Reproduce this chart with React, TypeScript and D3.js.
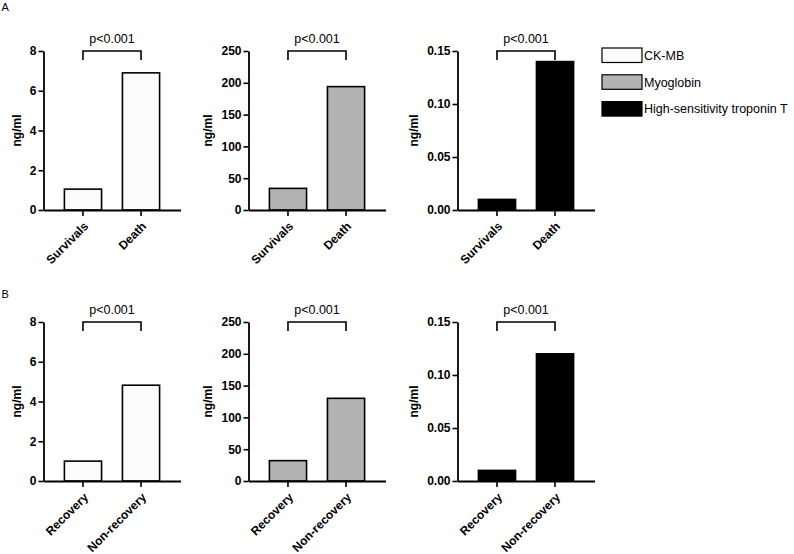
import React, { useEffect, useRef } from "react";
import * as d3 from "d3";

const groupsA = ["Survivals", "Death"];
const groupsB = ["Recovery", "Non-recovery"];
const markerNames = ["CK-MB", "Myoglobin", "High-sensitivity troponin T"];
const ckmbA = [1.05, 6.9];
const myoglobinA = [34, 194];
const troponinA = [0.01, 0.14];
const ckmbB = [1.0, 4.82];
const myoglobinB = [32, 130];
const troponinB = [0.01, 0.12];
const yMaxes = [8, 250, 0.15];
const yTicks0 = [0, 2, 4, 6, 8];
const yTicks1 = [0, 50, 100, 150, 200, 250];
const yTicks2 = [0, 0.05, 0.1, 0.15];
const yTickFormats = ["d", "d", ".2f"];
const pLabel = "p<0.001";
const panelLetters = ["A", "B"];
const yLabel = "ng/ml";

const fills = ["#fbfbfb", "#b3b3b3", "#000000"];
const colX = [43.5, 248.5, 457.5];
const rowTop = [51, 322];
const letterY = [11, 298];
const plotH = 159;
const plotW = 137;
const FONT = "'Liberation Sans', Arial, Helvetica, sans-serif";

export default function App() {
  const ref = useRef<SVGSVGElement>(null);
  useEffect(() => {
    const svg = d3.select(ref.current);
    svg.selectAll("*").remove();
    const rows = [
      { groups: groupsA, values: [ckmbA, myoglobinA, troponinA] },
      { groups: groupsB, values: [ckmbB, myoglobinB, troponinB] },
    ];
    const ticks = [yTicks0, yTicks1, yTicks2];

    rows.forEach((row, r) => {
      svg
        .append("text")
        .attr("x", 1.5)
        .attr("y", letterY[r])
        .attr("font-family", FONT)
        .attr("font-size", 11)
        .text(panelLetters[r]);

      row.values.forEach((vals, c) => {
        const g = svg.append("g").attr("transform", `translate(${colX[c]},${rowTop[r]})`);
        const y = d3.scaleLinear().domain([0, yMaxes[c]]).range([plotH, 0]);
        const x = d3.scaleBand<string>().domain(row.groups).range([0, plotW]).padding(0.36);

        g.selectAll("rect.bar")
          .data(vals)
          .join("rect")
          .attr("class", "bar")
          .attr("x", (_, i) => x(row.groups[i])!)
          .attr("y", (d) => y(d))
          .attr("width", x.bandwidth())
          .attr("height", (d) => plotH - y(d))
          .attr("fill", fills[c])
          .attr("stroke", "#000")
          .attr("stroke-width", 1.6);

        const yAxisG = g
          .append("g")
          .call(
            d3
              .axisLeft(y)
              .tickValues(ticks[c])
              .tickFormat(d3.format(yTickFormats[c]) as any)
              .tickSize(5)
              .tickSizeOuter(0)
              .tickPadding(2)
          );
        yAxisG.select(".domain").attr("stroke-width", 1.8);
        yAxisG.selectAll(".tick line").attr("stroke-width", 1.6);
        yAxisG
          .selectAll("text")
          .attr("font-family", FONT)
          .attr("font-size", 12)
          .attr("font-weight", "bold")
          .attr("fill", "#000");

        const xAxisG = g
          .append("g")
          .attr("transform", `translate(0,${plotH})`)
          .call(d3.axisBottom(x).tickSize(6).tickSizeOuter(0));
        xAxisG.select(".domain").attr("stroke-width", 1.8);
        xAxisG.selectAll(".tick line").attr("stroke-width", 1.6);
        xAxisG
          .selectAll("text")
          .attr("x", 0)
          .attr("y", 0)
          .attr("dy", "0.35em")
          .attr("transform", "translate(3,14) rotate(-45)")
          .attr("text-anchor", "end")
          .attr("font-family", FONT)
          .attr("font-size", 12)
          .attr("font-weight", "bold")
          .attr("fill", "#000");

        const bb = (yAxisG.node() as SVGGElement).getBBox();
        g.append("text")
          .attr("transform", `translate(${bb.x - 9},${plotH / 2}) rotate(-90)`)
          .attr("text-anchor", "middle")
          .attr("font-family", FONT)
          .attr("font-size", 12)
          .attr("font-weight", "bold")
          .text(yLabel);

        const x1 = x(row.groups[0])! + x.bandwidth() / 2;
        const x2 = x(row.groups[1])! + x.bandwidth() / 2;
        const yb = y(yMaxes[c]);
        g.append("path")
          .attr("d", `M${x1},${yb + 9}V${yb}H${x2}V${yb + 9}`)
          .attr("fill", "none")
          .attr("stroke", "#000")
          .attr("stroke-width", 1.6);
        g.append("text")
          .attr("x", (x1 + x2) / 2)
          .attr("y", yb - 8)
          .attr("text-anchor", "middle")
          .attr("font-family", FONT)
          .attr("font-size", 12.5)
          .text(pLabel);
      });
    });

    const lg = svg.append("g").attr("transform", "translate(602,48)");
    markerNames.forEach((name, i) => {
      lg.append("rect")
        .attr("x", 0)
        .attr("y", i * 26.8)
        .attr("width", 40)
        .attr("height", 14.5)
        .attr("fill", fills[i])
        .attr("stroke", "#000")
        .attr("stroke-width", 1.2);
      lg.append("text")
        .attr("x", 42)
        .attr("y", i * 26.8 + 7.5)
        .attr("dy", "0.35em")
        .attr("font-family", FONT)
        .attr("font-size", 12.5)
        .text(name);
    });
  }, []);

  return (
    <svg
      ref={ref}
      width={794}
      height={554}
      style={{ position: "absolute", left: 0, top: 0, background: "#fff" }}
    />
  );
}
